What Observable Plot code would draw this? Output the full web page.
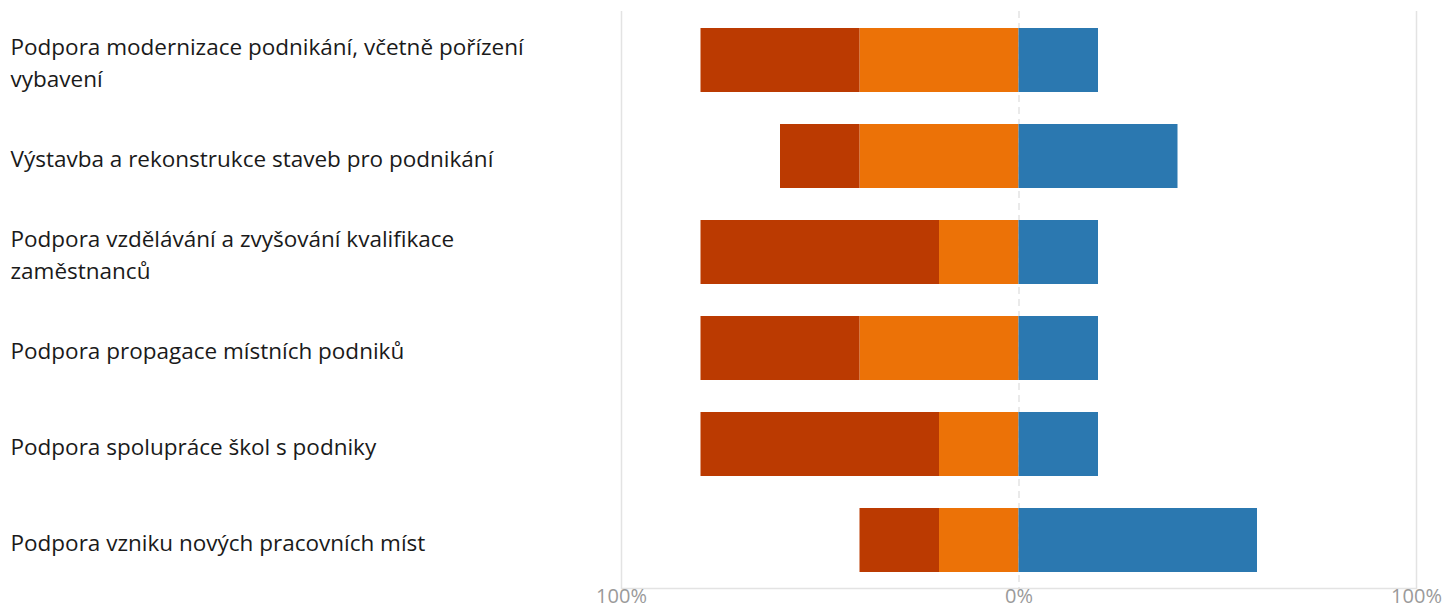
<!DOCTYPE html>
<html>
<head>
<meta charset="utf-8">
<script src="https://cdn.jsdelivr.net/npm/d3@7"></script>
<script src="https://cdn.jsdelivr.net/npm/@observablehq/plot@0.6"></script>
<style>
  html, body { margin: 0; padding: 0; background: #fff; }
  #chart svg { display: block; overflow: hidden; }
</style>
</head>
<body>
<div id="chart"></div>
<script>
const categories = [
  "Podpora modernizace podnikání, včetně pořízení vybavení",
  "Výstavba a rekonstrukce staveb pro podnikání",
  "Podpora vzdělávání a zvyšování kvalifikace zaměstnanců",
  "Podpora propagace místních podniků",
  "Podpora spolupráce škol s podniky",
  "Podpora vzniku nových pracovních míst"
];
const seriesNames = ["Spíše nedůležité", "Nedůležité", "Důležité"];
const seriesColors = ["#EC7207", "#BB3A01", "#2B78B0"];
// negative values to the left of 0, positive to the right
const spiseNedulezite = [-40, -40, -20, -40, -20, -20];
const nedulezite      = [-40, -20, -60, -40, -60, -20];
const dulezite        = [ 20,  40,  20,  20,  20,  60];
const tickValues = [-100, 0, 100];

const seriesValues = [spiseNedulezite, nedulezite, dulezite];
const data = [];
seriesNames.forEach((s, i) => {
  categories.forEach((c, j) => data.push({category: c, series: s, value: seriesValues[i][j]}));
});

const marginLeft = 621;
const chart = Plot.plot({
  width: 1447,
  height: 608,
  marginLeft,
  marginRight: 31,
  marginTop: 11,
  marginBottom: 20,
  style: {fontFamily: "'Open Sans', sans-serif", background: "#fff"},
  x: {domain: [-100, 100], axis: null},
  y: {domain: categories, paddingInner: 1/3, paddingOuter: 1/6, axis: null},
  color: {domain: seriesNames, range: seriesColors},
  marks: [
    Plot.ruleX([-100, 100], {stroke: "#e3e3e3", strokeWidth: 1.5}),
    Plot.ruleX([0], {stroke: "#e3e3e3", strokeWidth: 1.5, strokeDasharray: "7,5"}),
    Plot.frame({anchor: "bottom", stroke: "#e3e3e3", strokeWidth: 1.5}),
    Plot.barX(data, Plot.stackX({y: "category", x: "value", fill: "series", order: seriesNames})),
    Plot.axisX({
      ticks: tickValues, tickSize: 0, tickPadding: 0,
      tickFormat: d => Math.abs(d) + "%",
      fontSize: 20, fill: "#9a9a9a", label: null
    }),
    Plot.axisY({
      tickSize: 0, tickPadding: 0, textAnchor: "start",
      dx: 10 - marginLeft, fontSize: 22.5, fill: "#1a1a1a",
      lineWidth: 27, lineHeight: 1.42, label: null
    })
  ]
});
document.getElementById("chart").appendChild(chart);
</script>
</body>
</html>
